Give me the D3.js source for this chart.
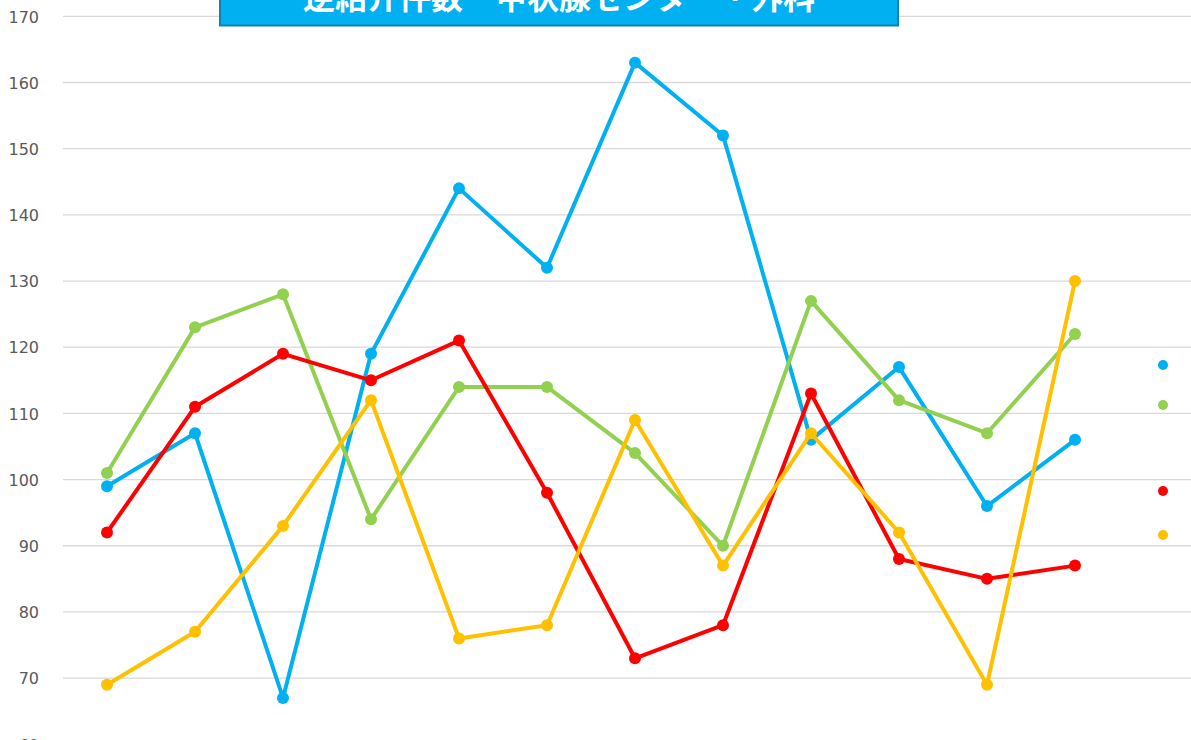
<!DOCTYPE html>
<html><head><meta charset="utf-8">
<script src="https://cdn.jsdelivr.net/npm/d3@7"></script>
<style>html,body{margin:0;padding:0;background:#fff;overflow:hidden}</style>
</head><body>
<svg id="c" width="1191" height="740"></svg>
<script>
const months = ["4月","5月","6月","7月","8月","9月","10月","11月","12月","1月","2月","3月"];
const yTicks = [60,70,80,90,100,110,120,130,140,150,160,170];
const seriesNames = ["系列1","系列2","系列3","系列4"];
const seriesColors = ["#00B0F0","#92D050","#FF0000","#FFC000"];
const blueValues   = [99,107,67,119,144,132,163,152,106,117,96,106];
const greenValues  = [101,123,128,94,114,114,104,90,127,112,107,122];
const redValues    = [92,111,119,115,121,98,73,78,113,88,85,87];
const yellowValues = [69,77,93,112,76,78,109,87,107,92,69,130];
const legendY = [365,405,491,535];
const title = "逆紹介件数　甲状腺センター・外科";

const series = [blueValues, greenValues, redValues, yellowValues];
const svg = d3.select("#c");
const left = 63, right = 1191;
const x = d3.scaleBand().domain(months).range([left, left + 88*12]).padding(0);
const y = d3.scaleLinear().domain([60,170]).range([744.3, 16.3]);
const cx = d => x(d) + x.bandwidth()/2;

// gridlines
svg.append("g").selectAll("line").data(yTicks).join("line")
  .attr("x1", left).attr("x2", right)
  .attr("y1", d => y(d)).attr("y2", d => y(d))
  .attr("stroke", "#d9d9d9").attr("stroke-width", 1.3);

// y axis labels
const yAxis = d3.axisLeft(y).tickValues(yTicks).tickSize(0).tickPadding(0);
const ga = svg.append("g").attr("transform", "translate(39,0)").call(yAxis);
ga.select(".domain").remove();
ga.selectAll("text").attr("fill", "#595959").attr("font-family", "DejaVu Sans, Verdana, sans-serif")
  .attr("font-size", 16).attr("dy", "0.36em");

// lines
const line = d3.line().x((d,i) => cx(months[i])).y(d => y(d));
series.forEach((vals, k) => {
  const g = svg.append("g");
  g.append("path").datum(vals).attr("d", line).attr("fill", "none")
    .attr("stroke", seriesColors[k]).attr("stroke-width", 4).attr("stroke-linejoin", "round");
  g.selectAll("circle").data(vals).join("circle")
    .attr("cx", (d,i) => cx(months[i])).attr("cy", d => y(d)).attr("r", 6)
    .attr("fill", seriesColors[k]);
});

// legend markers (labels are outside the visible area)
svg.append("g").selectAll("circle").data(seriesNames).join("circle")
  .attr("cx", 1163).attr("cy", (d,i) => legendY[i]).attr("r", 5)
  .attr("fill", (d,i) => seriesColors[i]);

// title box
svg.append("rect").attr("x", 220).attr("y", -40).attr("width", 678).attr("height", 65.5)
  .attr("fill", "#00B0F0").attr("stroke", "#0b84b3").attr("stroke-width", 2);
svg.append("text").attr("x", 559).attr("y", 9).attr("text-anchor", "middle")
  .attr("fill", "#fff").attr("font-weight", "bold").attr("font-size", 32)
  .attr("font-family", "Noto Sans CJK JP, sans-serif").text(title);
</script>
</body></html>
